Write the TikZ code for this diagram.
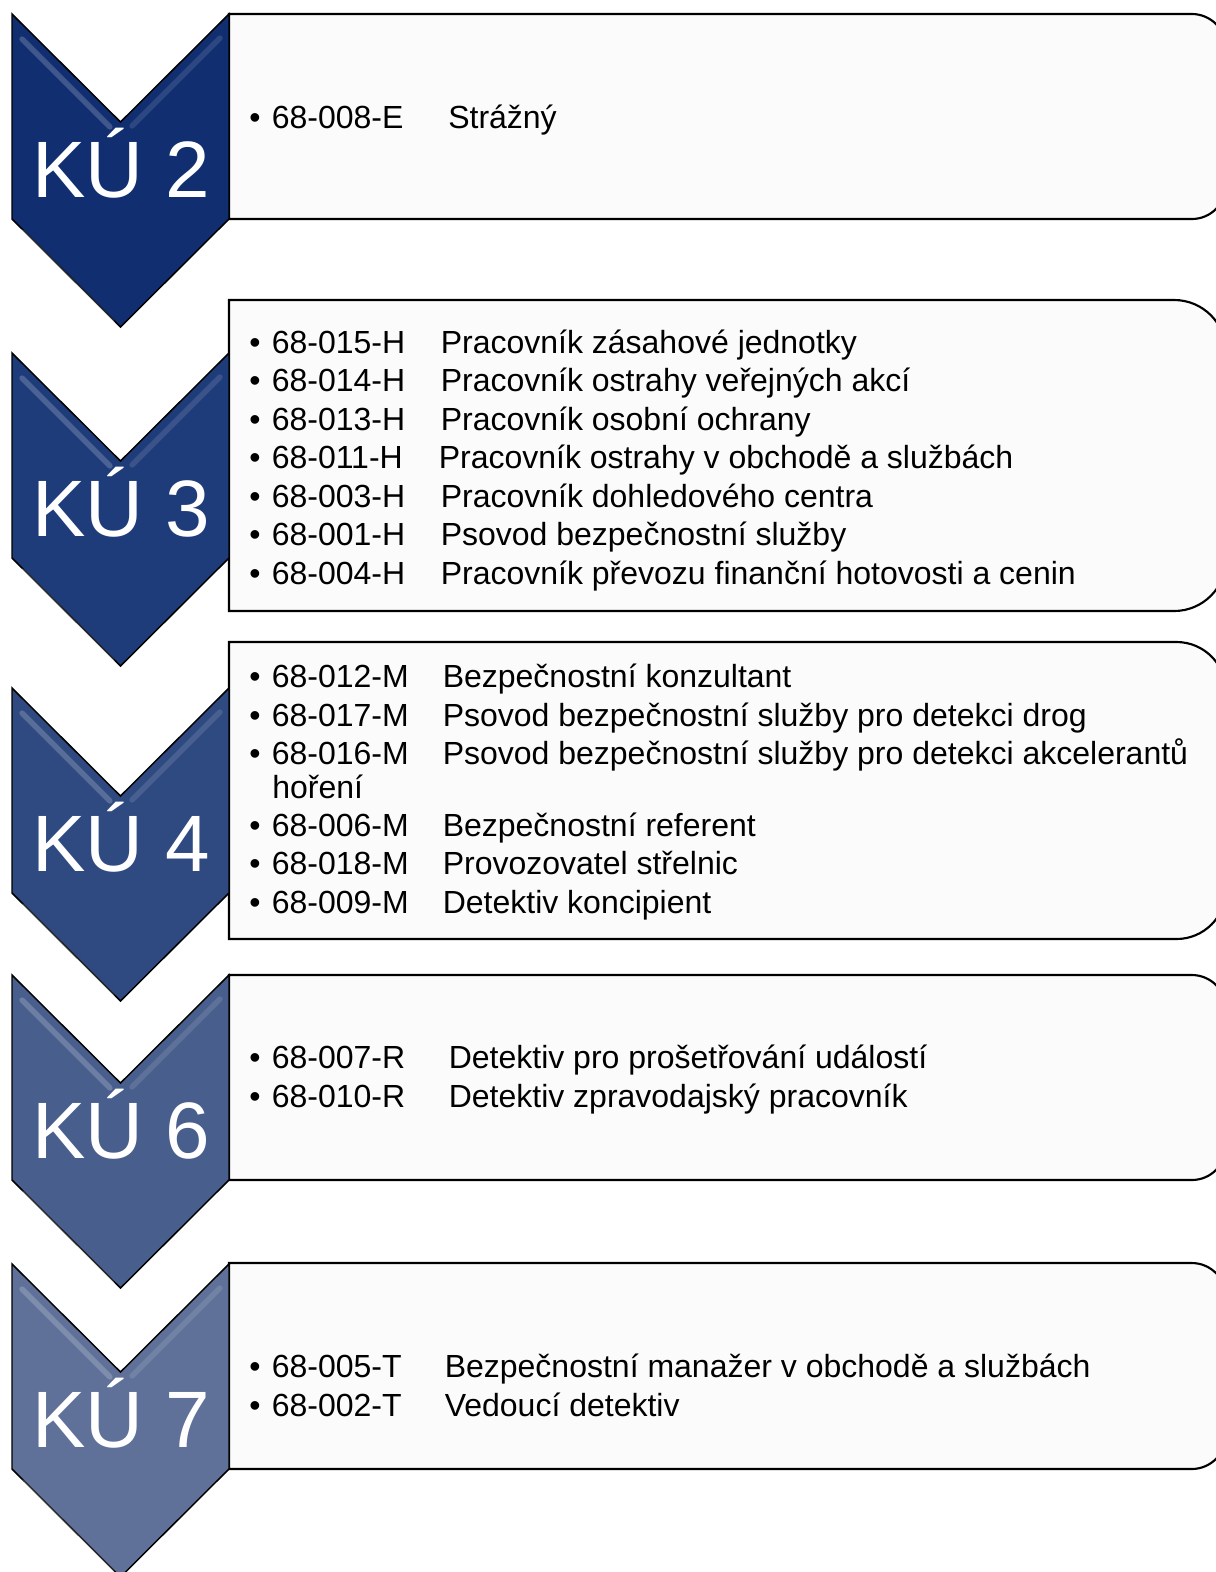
\documentclass[tikz,border=0pt]{standalone}
\usepackage{fontspec}
\setmainfont{Liberation Sans}
\definecolor{kutwo}{RGB}{16,46,112}
\definecolor{kuthree}{RGB}{31,60,122}
\definecolor{kufour}{RGB}{47,74,128}
\definecolor{kusix}{RGB}{72,94,140}
\definecolor{kuseven}{RGB}{95,113,153}
\definecolor{boxfill}{RGB}{251,251,251}
\begin{document}
\begin{tikzpicture}[x=0.75pt,y=-0.75pt,
    item/.style={anchor=base west,inner sep=0pt,font=\fontsize{24}{28}\selectfont},
    kulabel/.style={anchor=base,inner sep=0pt,text=white,font=\fontsize{60}{62}\selectfont},
    bevel/.style={white,opacity=.2,line width=4pt,line cap=round}]
  \useasboundingbox (0,0) rectangle (1215,1572);
  % boxes, right corners rounded
  \foreach \t/\b in {14/219,300/611,642/939,975/1180,1263/1469}{
    \pgfmathsetmacro{\r}{(\b-\t)/6}
    \draw[line width=1.6pt,fill=boxfill] (229,\t) -- ({1226-\r},\t)
      arc[start angle=-90,end angle=0,radius=\r] -- (1226,{\b-\r})
      arc[start angle=0,end angle=90,radius=\r] -- (229,\b) -- cycle;
  }
  % chevrons
  \foreach \y/\c/\n in {14/kutwo/2,353/kuthree/3,688/kufour/4,975/kusix/6,1264/kuseven/7}{
    \draw[fill=\c,line width=1.1pt] (12,\y) -- (120.5,\y+108) -- (229,\y) -- (229,\y+205)
      -- (120.5,\y+313) -- (12,\y+205) -- cycle;
    \draw[bevel] (22,\y+25) -- (110,\y+113);
    \draw[bevel] (22,\y+218) -- (112,\y+308);
    \draw[bevel,opacity=.12] (132,\y+112) -- (220,\y+24);
    \node[kulabel] (ku\n) at (121,\y+183.5) {KÚ \n};
  }
  % list lines
  \foreach \yb/\dx/\code/\desc [count=\i] in {
      128/448/68-008-E/Strážný,
      353/440.5/68-015-H/Pracovník zásahové jednotky,
      391.5/440.5/68-014-H/Pracovník ostrahy veřejných akcí,
      430/440.5/68-013-H/Pracovník osobní ochrany,
      468.5/438.5/68-011-H/Pracovník ostrahy v obchodě a službách,
      507/440.5/68-003-H/Pracovník dohledového centra,
      545.5/440.5/68-001-H/Psovod bezpečnostní služby,
      584/440.5/68-004-H/Pracovník převozu finanční hotovosti a cenin,
      687/442.5/68-012-M/Bezpečnostní konzultant,
      726/442.5/68-017-M/Psovod bezpečnostní služby pro detekci drog,
      764/442.5/68-016-M/Psovod bezpečnostní služby pro detekci akcelerantů,
      836/442.5/68-006-M/Bezpečnostní referent,
      874/442.5/68-018-M/Provozovatel střelnic,
      913/442.5/68-009-M/Detektiv koncipient,
      1068/448.5/68-007-R/Detektiv pro prošetřování událostí,
      1107/448.5/68-010-R/Detektiv zpravodajský pracovník,
      1377/444.5/68-005-T/Bezpečnostní manažer v obchodě a službách,
      1416/444.5/68-002-T/Vedoucí detektiv}{
    \node[item] (b\i) at (249,\yb) {•};
    \node[item] (c\i) at (271.5,\yb) {\code};
    \node[item] (d\i) at (\dx,\yb) {\desc};
  }
  \node[item] (cont) at (272,798) {hoření};
\end{tikzpicture}
\end{document}
